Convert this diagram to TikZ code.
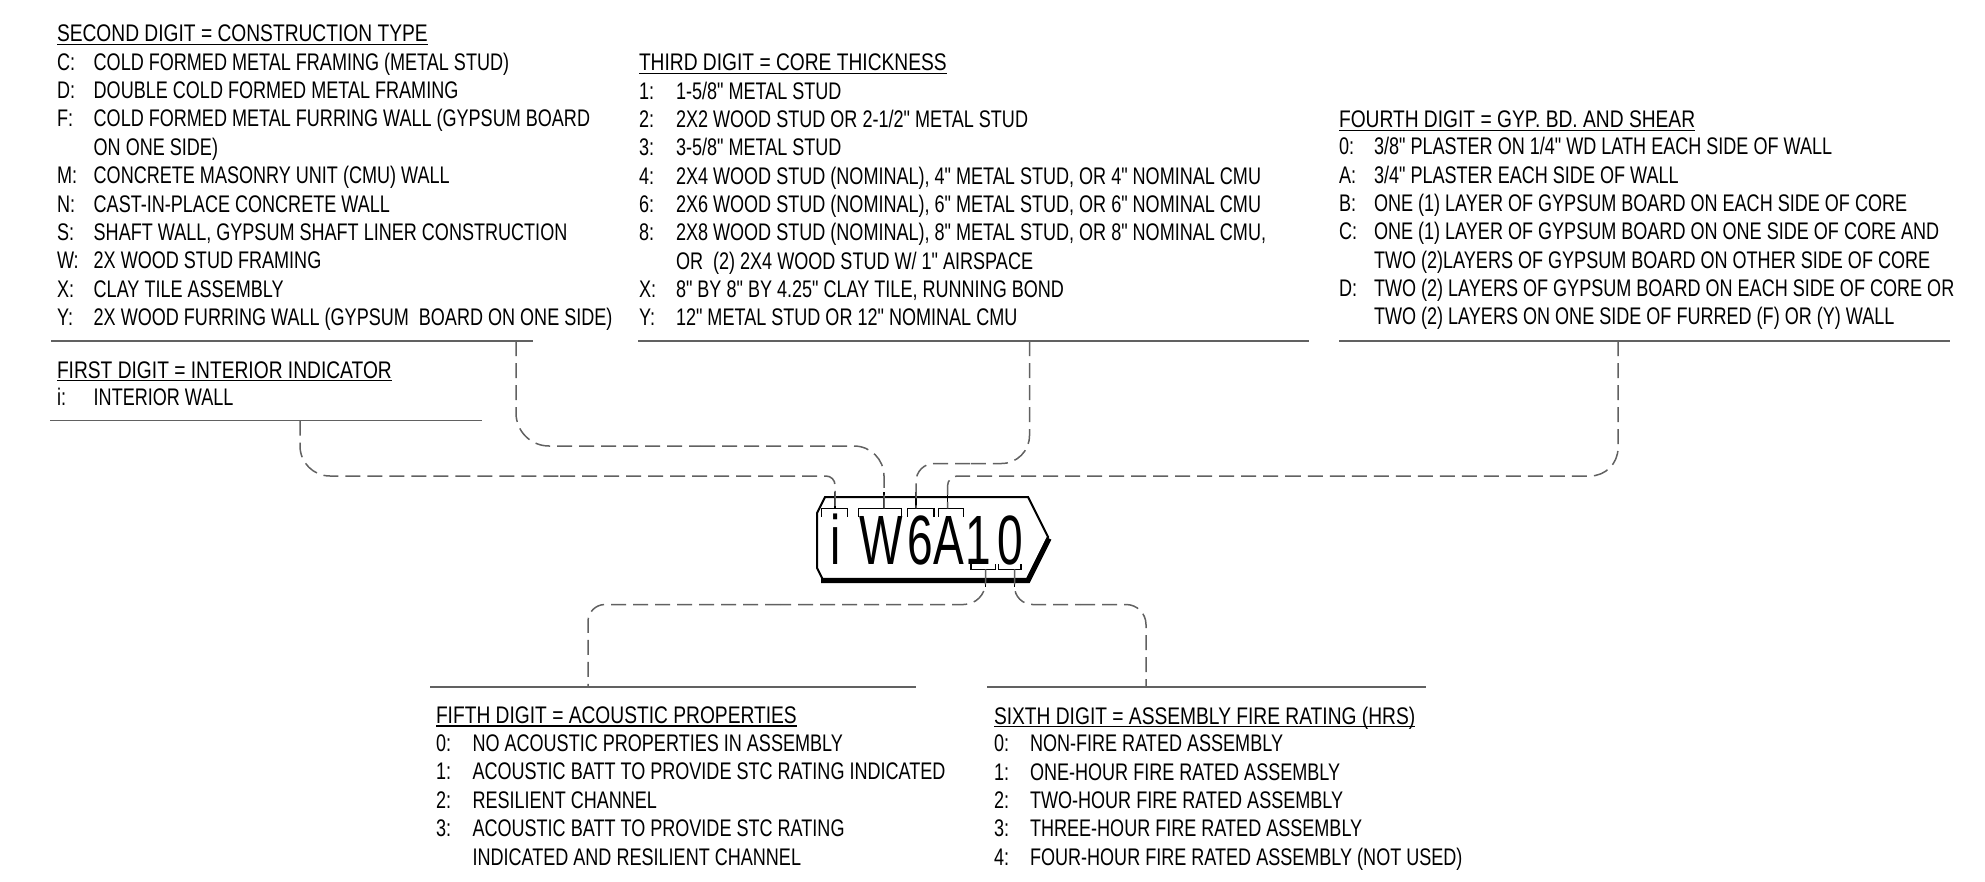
\documentclass[tikz,border=0pt]{standalone}
\usepackage{fontspec}
\setmainfont{Liberation Sans}[FakeStretch=0.752, Ligatures=TeXOff]
\newfontfamily\tagfont{Liberation Sans}[FakeStretch=0.66]
\newfontfamily\headfont{Liberation Sans}[FakeStretch=0.8, Ligatures=TeXOff]
\newcommand{\lgitem}[6]{%
  \node[txt] (#1k) at (#2,#4) {#5};
  \node[txt] (#1d) at (#3,#4) {#6};}
\tikzset{
  txt/.style={anchor=base west, inner sep=0pt, outer sep=0pt,
    font=\fontsize{12pt}{14pt}\selectfont, text=black},
  head/.style={anchor=base west, inner sep=0pt, outer sep=0pt,
    font=\headfont\fontsize{12pt}{14pt}\selectfont, text=black},
  blkline/.style={draw=black!62, line width=0.9pt},
  conn/.style={draw=black!62, line width=0.75pt, dash pattern=on 7.5pt off 3.5pt},
  brk/.style={draw=black, line width=0.75pt},
  ulin/.style={draw=black, line width=0.65pt},
  tagch/.style={anchor=base, inner sep=0pt, outer sep=0pt,
    font=\tagfont\fontsize{34.9pt}{36pt}\selectfont},
}
\begin{document}
\begin{tikzpicture}[x=0.5pt,y=-0.5pt]
\useasboundingbox (0,0) rectangle (1985,882);

% ---------- SECOND DIGIT ----------
\node[head] (h2) at (57,41.7) {SECOND DIGIT = CONSTRUCTION TYPE};
\draw[ulin] ([yshift=-1.4pt]h2.base west) -- ([yshift=-1.4pt]h2.base east);
\lgitem{sC}{57}{93.7}{70.1}{C:}{COLD FORMED METAL FRAMING (METAL STUD)}
\lgitem{sD}{57}{93.7}{98.5}{D:}{DOUBLE COLD FORMED METAL FRAMING}
\lgitem{sF}{57}{93.7}{126.9}{F:}{COLD FORMED METAL FURRING WALL (GYPSUM BOARD}
\node[txt] (sF2) at (93.7,155.3) {ON ONE SIDE)};
\lgitem{sM}{57}{93.7}{183.7}{M:}{CONCRETE MASONRY UNIT (CMU) WALL}
\lgitem{sN}{57}{93.7}{212.1}{N:}{CAST-IN-PLACE CONCRETE WALL}
\lgitem{sS}{57}{93.7}{240.5}{S:}{SHAFT WALL, GYPSUM SHAFT LINER CONSTRUCTION}
\lgitem{sW}{57}{93.7}{268.9}{W:}{2X WOOD STUD FRAMING}
\lgitem{sX}{57}{93.7}{297.3}{X:}{CLAY TILE ASSEMBLY}
\lgitem{sY}{57}{93.7}{325.7}{Y:}{2X WOOD FURRING WALL (GYPSUM\ \ BOARD ON ONE SIDE)}
\coordinate (l2a) at (51,341);
\coordinate (l2b) at (532.5,341);
\draw[blkline] (l2a) -- (l2b);

% ---------- THIRD DIGIT ----------
\node[head] (h3) at (639,71) {THIRD DIGIT = CORE THICKNESS};
\draw[ulin] ([yshift=-1.4pt]h3.base west) -- ([yshift=-1.4pt]h3.base east);
\lgitem{t1}{639}{676}{99.3}{1:}{1-5/8" METAL STUD}
\lgitem{t2}{639}{676}{127.6}{2:}{2X2 WOOD STUD OR 2-1/2" METAL STUD}
\lgitem{t3}{639}{676}{155.9}{3:}{3-5/8" METAL STUD}
\lgitem{t4}{639}{676}{184.2}{4:}{2X4 WOOD STUD (NOMINAL), 4" METAL STUD, OR 4" NOMINAL CMU}
\lgitem{t6}{639}{676}{212.5}{6:}{2X6 WOOD STUD (NOMINAL), 6" METAL STUD, OR 6" NOMINAL CMU}
\lgitem{t8}{639}{676}{240.8}{8:}{2X8 WOOD STUD (NOMINAL), 8" METAL STUD, OR 8" NOMINAL CMU,}
\node[txt] (t82) at (676,269.1) {OR\ \ (2) 2X4 WOOD STUD W/ 1" AIRSPACE};
\lgitem{tX}{639}{676}{297.4}{X:}{8" BY 8" BY 4.25" CLAY TILE, RUNNING BOND}
\lgitem{tY}{639}{676}{325.7}{Y:}{12" METAL STUD OR 12" NOMINAL CMU}
\coordinate (l3a) at (638,341);
\coordinate (l3b) at (1309,341);
\draw[blkline] (l3a) -- (l3b);

% ---------- FOURTH DIGIT ----------
\node[head] (h4) at (1339,128) {FOURTH DIGIT = GYP. BD. AND SHEAR};
\draw[ulin] ([yshift=-1.4pt]h4.base west) -- ([yshift=-1.4pt]h4.base east);
\lgitem{f0}{1339}{1374}{155}{0:}{3/8" PLASTER ON 1/4" WD LATH EACH SIDE OF WALL}
\lgitem{fA}{1339}{1374}{183.3}{A:}{3/4" PLASTER EACH SIDE OF WALL}
\lgitem{fB}{1339}{1374}{211.6}{B:}{ONE (1) LAYER OF GYPSUM BOARD ON EACH SIDE OF CORE}
\lgitem{fC}{1339}{1374}{239.9}{C:}{ONE (1) LAYER OF GYPSUM BOARD ON ONE SIDE OF CORE AND}
\node[txt] (fC2) at (1374,268.2) {TWO (2)LAYERS OF GYPSUM BOARD ON OTHER SIDE OF CORE};
\lgitem{fD}{1339}{1374}{296.5}{D:}{TWO (2) LAYERS OF GYPSUM BOARD ON EACH SIDE OF CORE OR}
\node[txt] (fD2) at (1374,324.8) {TWO (2) LAYERS ON ONE SIDE OF FURRED (F) OR (Y) WALL};
\coordinate (l4a) at (1339,341);
\coordinate (l4b) at (1950,341);
\draw[blkline] (l4a) -- (l4b);

% ---------- FIRST DIGIT ----------
\node[head] (h1) at (57,378) {FIRST DIGIT = INTERIOR INDICATOR};
\draw[ulin] ([yshift=-1.4pt]h1.base west) -- ([yshift=-1.4pt]h1.base east);
\lgitem{ii}{57}{93.7}{405}{i:}{INTERIOR WALL}
\coordinate (l1a) at (50,420.5);
\coordinate (l1b) at (481.7,420.5);
\draw[blkline] (l1a) -- (l1b);

% ---------- FIFTH DIGIT ----------
\coordinate (l5a) at (430,686.7);
\coordinate (l5b) at (916.4,686.7);
\draw[blkline] (l5a) -- (l5b);
\node[head] (h5) at (436,723.3) {FIFTH DIGIT = ACOUSTIC PROPERTIES};
\draw[ulin] ([yshift=-1.4pt]h5.base west) -- ([yshift=-1.4pt]h5.base east);
\lgitem{a0}{436}{472.5}{751}{0:}{NO ACOUSTIC PROPERTIES IN ASSEMBLY}
\lgitem{a1}{436}{472.5}{779.5}{1:}{ACOUSTIC BATT TO PROVIDE STC RATING INDICATED}
\lgitem{a2}{436}{472.5}{808}{2:}{RESILIENT CHANNEL}
\lgitem{a3}{436}{472.5}{836.5}{3:}{ACOUSTIC BATT TO PROVIDE STC RATING}
\node[txt] (a32) at (472.5,865) {INDICATED AND RESILIENT CHANNEL};

% ---------- SIXTH DIGIT ----------
\coordinate (l6a) at (987,686.7);
\coordinate (l6b) at (1426,686.7);
\draw[blkline] (l6a) -- (l6b);
\node[head] (h6) at (994,724) {SIXTH DIGIT = ASSEMBLY FIRE RATING (HRS)};
\draw[ulin] ([yshift=-1.4pt]h6.base west) -- ([yshift=-1.4pt]h6.base east);
\lgitem{r0}{994}{1030}{751.5}{0:}{NON-FIRE RATED ASSEMBLY}
\lgitem{r1}{994}{1030}{780}{1:}{ONE-HOUR FIRE RATED ASSEMBLY}
\lgitem{r2}{994}{1030}{808}{2:}{TWO-HOUR FIRE RATED ASSEMBLY}
\lgitem{r3}{994}{1030}{836.5}{3:}{THREE-HOUR FIRE RATED ASSEMBLY}
\lgitem{r4}{994}{1030}{865}{4:}{FOUR-HOUR FIRE RATED ASSEMBLY (NOT USED)}

% ---------- TAG ----------
\draw[black, line width=1pt, line join=miter]
  (825,497) -- (1028,497) -- (1048,537) -- (1027,580) -- (823,580)
  -- (817,568) -- (817,513) -- cycle;
\draw[black, line width=2.6pt, line join=miter]
  (821,580.5) -- (1028,580.5) -- (1049,538.5);
\node[tagch] (ci) at (835.5,564) {i};
\node[tagch] (cW) at (881,564) {W};
\node[tagch] (c6) at (920.5,564) {6};
\node[tagch] (cA) at (949,564) {A};
\node[tagch] (c1) at (978.5,564) {1};
\node[tagch] (c0) at (1010,564) {0};

% brackets (top)
\draw[brk] (821.7,516.7) -- (821.7,508.3) -- (847.3,508.3) -- (847.3,516.7);
\draw[brk] (858.3,516.7) -- (858.3,508.3) -- (901.7,508.3) -- (901.7,516.7);
\draw[brk] (907.3,516.7) -- (907.3,508.3) -- (934,508.3) -- (934,516.7);
\draw[brk] (938.3,516.7) -- (938.3,508.3) -- (963.3,508.3) -- (963.3,516.7);
% brackets (bottom)
\draw[brk] (971,564) -- (971,569.3) -- (995.7,569.3) -- (995.7,564);
\draw[brk] (998.3,564) -- (998.3,569.3) -- (1021,569.3) -- (1021,564);

% connector end points at brackets
\coordinate (bi) at (835,508.3);
\coordinate (bW) at (884,508.3);
\coordinate (b6) at (916,508.3);
\coordinate (bA) at (947.5,508.3);
\coordinate (b1) at (985.5,569.3);
\coordinate (b0) at (1014.5,569.3);
% solid stubs
\draw[brk] (bi) -- ++(0,-16);
\draw[brk] (bW) -- ++(0,-16);
\draw[brk] (b6) -- ++(0,-16);
\draw[brk] (bA) -- ++(0,-16);
\draw[brk] (b1) -- ++(0,18);
\draw[brk] (b0) -- ++(0,18);

% connector start points on the legend lines
\coordinate (s1) at (300,420.5);
\coordinate (s2) at (516,341);
\coordinate (s3) at (1029.5,341);
\coordinate (s4) at (1618,341);
\coordinate (s5) at (588,686.7);
\coordinate (s6) at (1146,686.7);
% mid points of the horizontal runs
\coordinate (m1) at (560,476);
\coordinate (m2) at (700,446);
\coordinate (m3) at (970,463.5);
\coordinate (m4) at (1300,476);
\coordinate (m5) at (780,604.5);
\coordinate (m6) at (1080,604.5);

\draw[conn, rounded corners=15pt] (s1) |- (m1);
\draw[conn, rounded corners=4.5pt] (m1) -| (bi);
\draw[conn, rounded corners=16.5pt] (s2) |- (m2);
\draw[conn, rounded corners=15pt] (m2) -| (bW);
\draw[conn, rounded corners=14pt] (s3) |- (m3);
\draw[conn, rounded corners=9pt] (m3) -| (b6);
\draw[conn, rounded corners=14pt] (s4) |- (m4);
\draw[conn, rounded corners=5pt] (m4) -| (bA);
\draw[conn, rounded corners=11pt] (b1) |- (m5);
\draw[conn, rounded corners=8.5pt] (m5) -| (s5);
\draw[conn, rounded corners=9pt] (b0) |- (m6);
\draw[conn, rounded corners=10pt] (m6) -| (s6);
\end{tikzpicture}
\end{document}
